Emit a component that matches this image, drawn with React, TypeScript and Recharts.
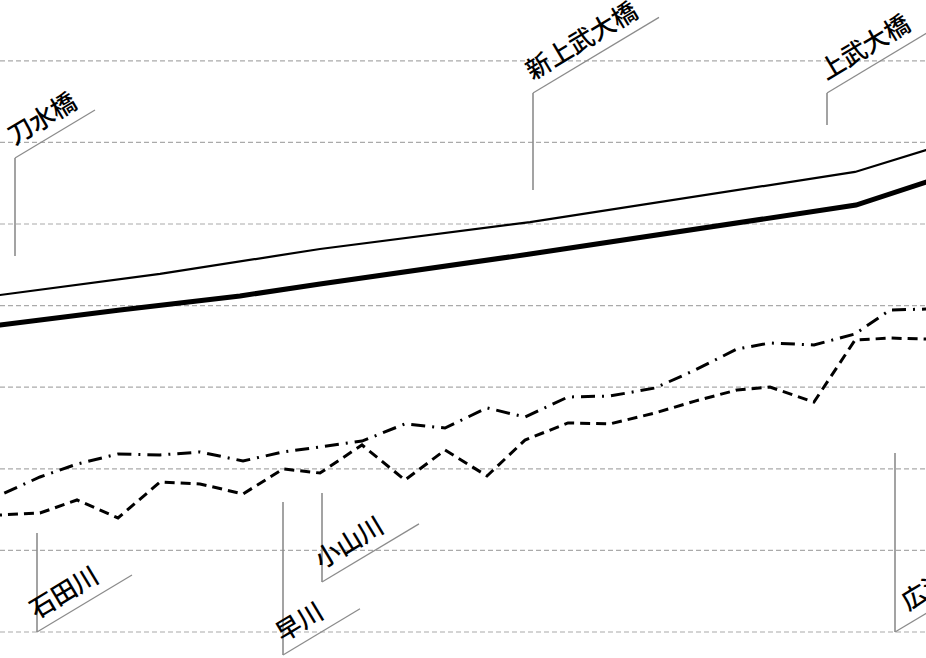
import React from "react";
import { LineChart, Line, XAxis, YAxis, ReferenceLine, ReferenceDot } from "recharts";

// distance along the river (km) and water levels (m, relative); the lines run on past both edges
const sectionKm = [-0.6, 0, 1.0, 1.925, 2.95, 4.0, 5.0, 6.075, 7.075, 8.0, 9.05, 10.125, 11.125, 12.175, 13.125, 14.2, 15.25, 16.375, 17.375, 18.425, 19.25, 20.35, 21.375, 22.25, 23.15, 23.8];
const dashDotLevel = [7.9, 8.39, 9.5, 10.29, 10.91, 10.85, 11.03, 10.48, 11.03, 11.34, 11.7, 12.75, 12.5, 13.73, 13.17, 14.4, 14.46, 14.95, 16.05, 17.34, 17.71, 17.59, 18.26, 19.73, 19.79, 19.8];
const dashedLevel = [7.1, 7.17, 7.29, 8.09, 6.99, 9.19, 9.07, 8.46, 9.99, 9.74, 11.46, 9.31, 11.15, 9.56, 11.76, 12.81, 12.75, 13.42, 14.15, 14.83, 15.01, 14.09, 17.89, 18.01, 17.95, 17.95];

const thinKm = [-0.6, 0, 4, 8, 13.25, 21.375, 23.15, 23.8];
const thinLevel = [20.45, 20.65, 21.94, 23.47, 25.12, 28.19, 29.53, 30.0];
const thickKm = [-0.6, 0, 3, 6, 8, 13.25, 21.4, 23.15, 23.8];
const thickLevel = [18.6, 18.81, 19.73, 20.59, 21.32, 23.16, 26.16, 27.57, 28.0];

const gridLevels = [0, 5, 10, 15, 20, 25, 30, 35];

// callouts: name, km, free end of leader, corner of leader, length of slanted line (km)
const calloutNames = ["刀水橋", "新上武大橋", "上武大橋", "石田川", "早川", "小山川", "広瀬川"];
const calloutKm = [0.375, 13.325, 20.675, 0.925, 7.075, 8.05, 22.375];
const calloutEnd = [23.04, 27.08, 31.07, 6.07, 7.97, 8.52, 10.97];
const calloutCorner = [29.04, 33.03, 33.03, 0, -1.41, 3.06, 0];
const calloutRun = [2.0, 3.15, 2.75, 2.375, 1.925, 2.425, 2.5];
const calloutTextShift = [6, 6, 6, 6, 6, 6, 22];

const X_DOMAIN: [number, number] = [0, 23.15];
const Y_DOMAIN: [number, number] = [-1.593, 38.725];
const RISE_PER_KM = (40 * 0.6) / 16.32;

const toRows = (xs: number[], ys: number[]) => xs.map((x, i) => ({ x, y: ys[i] }));

const LabelShape = (name: string, shift: number) => (props: any) => {
  const { cx, cy } = props;
  return (
    <text
      transform={`translate(${cx},${cy}) rotate(-31)`}
      x={shift}
      y={-11}
      fontSize={25}
      fontWeight={500}
      fontFamily="'Noto Sans CJK JP', 'Noto Sans', sans-serif"
      fill="#000"
    >
      {name}
    </text>
  );
};

export default function App() {
  return (
    <div style={{ position: "absolute", left: 0, top: 0, width: 926, height: 658, overflow: "hidden", background: "#fff" }}>
      <LineChart width={926} height={658} margin={{ top: 0, right: 0, bottom: 0, left: 0 }}>
        <XAxis type="number" dataKey="x" domain={X_DOMAIN} allowDataOverflow hide />
        <YAxis type="number" domain={Y_DOMAIN} allowDataOverflow hide />
        {gridLevels.map((g) => (
          <ReferenceLine key={"g" + g} y={g} stroke="#aaa" strokeWidth={1.2} strokeDasharray="5 3" />
        ))}
        {calloutNames.map((n, i) => (
          <ReferenceLine
            key={"v" + i}
            segment={[{ x: calloutKm[i], y: calloutEnd[i] }, { x: calloutKm[i], y: calloutCorner[i] }]}
            stroke="#8c8c8c"
            strokeWidth={1.6}
            ifOverflow="visible"
          />
        ))}
        {calloutNames.map((n, i) => (
          <ReferenceLine
            key={"d" + i}
            segment={[
              { x: calloutKm[i], y: calloutCorner[i] },
              { x: calloutKm[i] + calloutRun[i], y: calloutCorner[i] + calloutRun[i] * RISE_PER_KM },
            ]}
            stroke="#8c8c8c"
            strokeWidth={1.3}
            ifOverflow="visible"
          />
        ))}
        {calloutNames.map((n, i) => (
          <ReferenceDot
            key={"t" + i}
            x={calloutKm[i]}
            y={calloutCorner[i]}
            r={0}
            ifOverflow="visible"
            shape={LabelShape(n, calloutTextShift[i])}
          />
        ))}
        <Line data={toRows(thinKm, thinLevel)} dataKey="y" type="linear" stroke="#000" strokeWidth={2.2} dot={false} activeDot={false} isAnimationActive={false} />
        <Line data={toRows(thickKm, thickLevel)} dataKey="y" type="linear" stroke="#000" strokeWidth={5} dot={false} activeDot={false} isAnimationActive={false} />
        <Line data={toRows(sectionKm, dashDotLevel)} dataKey="y" type="linear" stroke="#000" strokeWidth={3} strokeDasharray="14 7 2 7" dot={false} activeDot={false} isAnimationActive={false} />
        <Line data={toRows(sectionKm, dashedLevel)} dataKey="y" type="linear" stroke="#000" strokeWidth={3} strokeDasharray="10 6" dot={false} activeDot={false} isAnimationActive={false} />
      </LineChart>
    </div>
  );
}
